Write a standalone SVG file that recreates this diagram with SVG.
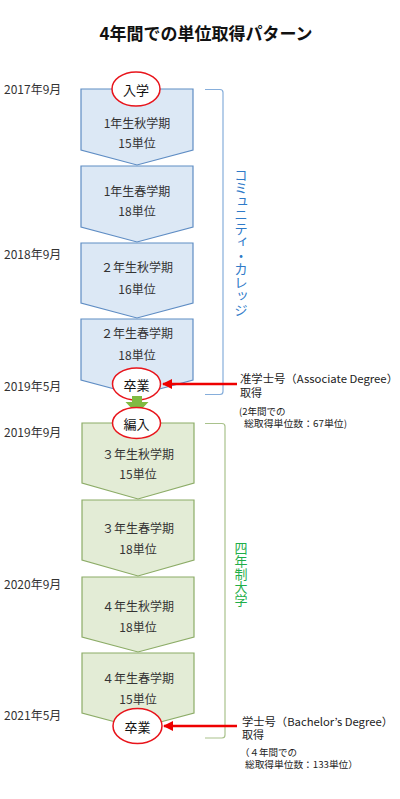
<svg xmlns="http://www.w3.org/2000/svg" width="400" height="799" viewBox="0 0 400 799">
<defs>
<style>
text{font-family:"Noto Sans CJK JP","Noto Sans",sans-serif;fill:#333;}
.t{font-size:12px;text-anchor:middle;dominant-baseline:central;}
.yr{font-size:12px;dominant-baseline:central;}
.b{fill:#dce8f5;stroke:#5f8dc4;stroke-width:1.2;}
.g{fill:#e3ecd6;stroke:#8cac67;stroke-width:1.2;}
.el{fill:#fff;stroke:#e8141b;stroke-width:1.5;}
.et{font-size:13px;text-anchor:middle;dominant-baseline:central;fill:#111;}
.arr{stroke:#ee0000;stroke-width:2.5;fill:none;}
.note{font-size:11px;dominant-baseline:central;fill:#222;}
.sm{font-size:9.5px;dominant-baseline:central;fill:#222;}
</style>
<marker id="ah" viewBox="0 0 10 10" refX="9" refY="5" markerWidth="4" markerHeight="4" orient="auto" markerUnits="strokeWidth">
<path d="M0,0 L10,5 L0,10 z" fill="#ee0000"/>
</marker>
</defs>
<rect width="400" height="799" fill="#fff"/>
<text x="206" y="32" font-size="17" font-weight="bold" text-anchor="middle" dominant-baseline="central" style="fill:#111">4年間での単位取得パターン</text>

<g id="years">
<text class="yr" x="4" y="88">2017年9月</text>
<text class="yr" x="4" y="253">2018年9月</text>
<text class="yr" x="4" y="385">2019年5月</text>
<text class="yr" x="4" y="431">2019年9月</text>
<text class="yr" x="4" y="583">2020年9月</text>
<text class="yr" x="4" y="714">2021年5月</text>
</g>

<g id="c1"><polygon class="b" points="81,89 193,89 193,150 137,165 81,150"/><text class="t" x="137" y="122">1年生秋学期</text><text class="t" x="137" y="142">15単位</text></g>
<g id="c2"><polygon class="b" points="81,166 193,166 193,227 137,242 81,227"/><text class="t" x="137" y="190">1年生春学期</text><text class="t" x="137" y="210">18単位</text></g>
<g id="c3"><polygon class="b" points="81,243 193,243 193,303 137,318 81,303"/><text class="t" x="137" y="266">２年生秋学期</text><text class="t" x="137" y="288">16単位</text></g>
<g id="c4"><polygon class="b" points="81,319 193,319 193,380 137,395 81,380"/><text class="t" x="137" y="332">２年生春学期</text><text class="t" x="137" y="354">18単位</text></g>

<g id="g1"><polygon class="g" points="82,423 194,423 194,483 138,499 82,483"/><text class="t" x="138" y="453">３年生秋学期</text><text class="t" x="138" y="473">15単位</text></g>
<g id="g2"><polygon class="g" points="82,500 194,500 194,560 138,576 82,560"/><text class="t" x="138" y="527">３年生春学期</text><text class="t" x="138" y="548">18単位</text></g>
<g id="g3"><polygon class="g" points="82,577 194,577 194,637 138,652 82,637"/><text class="t" x="138" y="605">４年生秋学期</text><text class="t" x="138" y="626">18単位</text></g>
<g id="g4"><polygon class="g" points="82,653 194,653 194,713 138,728 82,713"/><text class="t" x="138" y="677">４年生春学期</text><text class="t" x="138" y="698">15単位</text></g>

<g id="e-nyugaku"><ellipse class="el" cx="136" cy="89" rx="24" ry="17"/><text class="et" x="136" y="89">入学</text></g>
<g id="e-sotsu1"><ellipse class="el" cx="136.5" cy="384" rx="24" ry="16"/><text class="et" x="136.5" y="384">卒業</text></g>

<g id="transfer-arrow"><polygon points="132,396 142,396 142,402 148.5,402 137,414 125.5,402 132,402" fill="#7fba42"/></g>

<g id="e-hennyu"><ellipse class="el" cx="136.5" cy="423" rx="24" ry="15.5"/><text class="et" x="136.5" y="423">編入</text></g>
<g id="e-sotsu2"><ellipse class="el" cx="137.5" cy="726" rx="24.5" ry="17.5"/><text class="et" x="137.5" y="726">卒業</text></g>

<g id="brackets">
<path d="M205,89.5 H220 Q223,89.5 223,92.5 V391.5 Q223,394.5 220,394.5 H205" fill="none" stroke="#86aedb" stroke-width="1.2"/>
<path d="M205,423.5 H222 Q225,423.5 225,426.5 V735 Q225,738 222,738 H205" fill="none" stroke="#a9c28c" stroke-width="1.2"/>
<text x="241" y="168" font-size="13.5" style="writing-mode:vertical-rl;fill:#2f7ac8;" text-anchor="start">コミュニティ・カレッジ</text>
<text x="241" y="542" font-size="13" style="writing-mode:vertical-rl;fill:#1fae4a;" text-anchor="start">四年制大学</text>
</g>

<g id="connectors">
<line class="arr" x1="237" y1="384" x2="163" y2="384" marker-end="url(#ah)"/>
<line class="arr" x1="237" y1="726" x2="164" y2="726" marker-end="url(#ah)"/>
</g>

<g id="notes">
<text class="note" x="240" y="378" textLength="158" lengthAdjust="spacingAndGlyphs">准学士号（Associate Degree）</text>
<text class="note" x="240" y="392">取得</text>
<text class="sm" x="239" y="411">(2年間での</text>
<text class="sm" x="244" y="422.5" textLength="103" lengthAdjust="spacingAndGlyphs">総取得単位数：67単位)</text>
<text class="note" x="242" y="720.5" textLength="151" lengthAdjust="spacingAndGlyphs">学士号（Bachelor’s Degree）</text>
<text class="note" x="242" y="733.5">取得</text>
<text class="sm" x="240" y="752">（４年間での</text>
<text class="sm" x="245" y="763.5" textLength="113" lengthAdjust="spacingAndGlyphs">総取得単位数：133単位）</text>
</g>
</svg>
